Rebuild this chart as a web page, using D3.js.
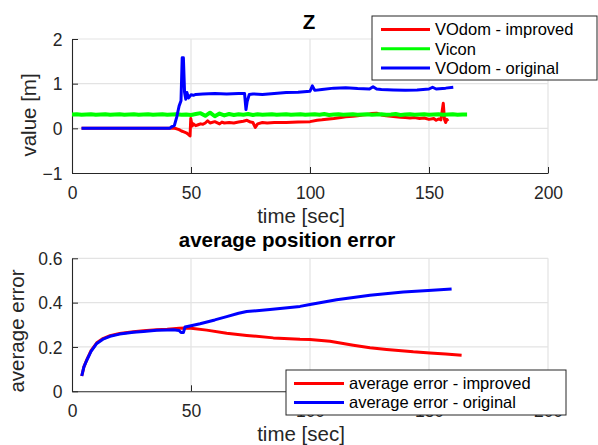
<!DOCTYPE html>
<html>
<head>
<meta charset="utf-8">
<script src="https://cdn.jsdelivr.net/npm/d3@7"></script>
<style>
  html, body { margin: 0; padding: 0; background: #fff; }
  svg { display: block; font-family: "Liberation Sans", Arial, Helvetica, sans-serif; }
</style>
</head>
<body>
<svg id="fig" width="598" height="445"></svg>
<script>
// ---- Z position over time (top panel) ----
const improvedT = [4, 43, 44, 45, 46, 47, 48, 49, 49.6, 49.9, 50.5, 51, 52, 53, 54, 55, 56, 57, 58, 60, 62, 63, 64, 66, 68, 70, 72, 73.5, 75, 76, 77, 78, 80, 82, 85, 90, 95, 100, 103, 105, 108, 110, 113, 115, 118, 120, 122, 124, 126, 128, 130, 132, 134, 136, 138, 140, 142, 144, 146, 148, 150, 152, 153, 154, 155, 156, 156.5, 157, 157.5, 158];
const improvedZ = [0, 0, -0.01, -0.03, -0.06, -0.08, -0.1, -0.14, -0.17, 0.22, 0.05, 0.1, 0.06, 0.08, 0.1, 0.09, 0.12, 0.17, 0.12, 0.15, 0.1, 0.14, 0.12, 0.13, 0.12, 0.14, 0.16, 0.18, 0.14, 0.13, 0.02, 0.1, 0.13, 0.12, 0.13, 0.13, 0.14, 0.15, 0.18, 0.19, 0.21, 0.22, 0.24, 0.26, 0.27, 0.28, 0.3, 0.31, 0.33, 0.34, 0.3, 0.28, 0.27, 0.26, 0.25, 0.24, 0.23, 0.24, 0.22, 0.23, 0.2, 0.22, 0.18, 0.21, 0.19, 0.56, 0.2, 0.13, 0.2, 0.16];

const viconT = [0, 2, 4, 6, 8, 10, 12, 14, 16, 18, 20, 22, 24, 26, 28, 30, 32, 34, 36, 38, 40, 42, 44, 46, 48, 50, 52, 54, 56, 58, 60, 62, 64, 66, 68, 70, 72, 74, 76, 78, 80, 82, 84, 86, 88, 90, 92, 94, 96, 98, 100, 102, 104, 106, 108, 110, 112, 114, 116, 118, 120, 122, 124, 126, 128, 130, 132, 134, 136, 138, 140, 142, 144, 146, 148, 150, 152, 154, 156, 158, 160, 162, 164, 166];
const viconZ = [0.31, 0.315, 0.305, 0.31, 0.315, 0.305, 0.31, 0.315, 0.305, 0.31,
                0.315, 0.305, 0.31, 0.315, 0.305, 0.31, 0.315, 0.305, 0.31, 0.315,
                0.305, 0.31, 0.315, 0.305, 0.31, 0.30, 0.32, 0.34, 0.28, 0.35,
                0.27, 0.33, 0.29, 0.32, 0.30, 0.315, 0.305, 0.32, 0.30, 0.315,
                0.305, 0.31, 0.315, 0.305, 0.31, 0.315, 0.305, 0.31, 0.315, 0.305,
                0.31, 0.315, 0.305, 0.32, 0.30, 0.31, 0.315, 0.305, 0.31, 0.315,
                0.305, 0.31, 0.315, 0.305, 0.31, 0.315, 0.305, 0.31, 0.32, 0.30,
                0.31, 0.315, 0.305, 0.31, 0.315, 0.305, 0.31, 0.315, 0.305, 0.31,
                0.315, 0.305, 0.31, 0.31];

const originalT = [4, 41, 42, 43, 44, 45, 45.8, 46.3, 46.8, 47.3, 47.8, 48.3, 49, 50, 51, 52, 55, 60, 65, 70, 72.5, 73.1, 73.6, 74.5, 76, 80, 85, 90, 95, 100, 101, 102, 105, 110, 115, 120, 125, 126.5, 128, 130, 135, 140, 145, 150, 151.5, 153, 157, 160.2];
const originalZ = [0, 0, 0.04, 0.06, 0.25, 0.5, 0.62, 1.58, 1.58, 0.8, 0.65, 0.8, 0.68, 0.75, 0.74, 0.76, 0.77, 0.78, 0.77, 0.78, 0.78, 0.42, 0.6, 0.76, 0.77, 0.76, 0.78, 0.8, 0.81, 0.83, 0.95, 0.85, 0.87, 0.9, 0.91, 0.89, 0.88, 0.93, 0.88, 0.87, 0.86, 0.85, 0.86, 0.88, 0.92, 0.88, 0.9, 0.92];

// ---- average position error (bottom panel) ----
const errImprovedT = [4.1, 5, 6.2, 8, 10.4, 13, 16, 20, 25.8, 30, 35.6, 40, 42.6, 45, 47.5, 50, 56.6, 65, 73.4, 84.6, 95.8, 100, 108.4, 118.2, 125.2, 132.2, 143.4, 150.4, 157, 163.7];
const errImprovedV = [0.069, 0.11, 0.142, 0.183, 0.219, 0.238, 0.251, 0.261, 0.269, 0.273, 0.278, 0.28, 0.282, 0.284, 0.286, 0.284, 0.276, 0.262, 0.252, 0.241, 0.235, 0.234, 0.226, 0.208, 0.196, 0.189, 0.178, 0.173, 0.168, 0.163];

const errOriginalT = [4.1, 5, 6.2, 8, 10.4, 13, 16, 20, 25.8, 30, 35.6, 40, 42.6, 45, 45.8, 46.8, 47.5, 50, 53.8, 60, 65, 70, 73.4, 76, 83.2, 95.8, 100, 111.2, 125.2, 139.2, 149.7, 159.5];
const errOriginalV = [0.069, 0.11, 0.14, 0.18, 0.216, 0.235, 0.248, 0.258, 0.266, 0.27, 0.275, 0.277, 0.278, 0.274, 0.265, 0.265, 0.29, 0.296, 0.305, 0.322, 0.337, 0.352, 0.36, 0.362, 0.369, 0.383, 0.392, 0.413, 0.433, 0.448, 0.455, 0.461];

// ---- axis ticks and labels ----
const timeTicks = [0, 50, 100, 150, 200];
const zTicks = [-1, 0, 1, 2];
const errTicks = [0, 0.2, 0.4, 0.6];
const zLegend = ["VOdom - improved", "Vicon", "VOdom - original"];
const errLegend = ["average error - improved", "average error - original"];

const RED = "#ff0000", GREEN = "#00ff00", BLUE = "#0000ff";
const AXIS = "#262626", GRID = "#e3e3e3";
const TICK_FS = 17.5, LABEL_FS = 20.5, TITLE_FS = 20.5, LEG_FS = 16.5;

const svg = d3.select("#fig");
svg.append("rect").attr("width", 598).attr("height", 445).attr("fill", "#fff");

function zip(ts, vs) { return ts.map((t, i) => [t, vs[i]]); }

function panel(opts) {
  const x = d3.scaleLinear().domain([0, 200]).range([72, 548]);
  const y = d3.scaleLinear().domain(opts.yDomain).range([opts.bottom, opts.top]);
  const g = svg.append("g");

  // grid
  g.append("g").selectAll("line").data(timeTicks.slice(1)).join("line")
    .attr("x1", d => x(d)).attr("x2", d => x(d))
    .attr("y1", opts.top).attr("y2", opts.bottom)
    .attr("stroke", GRID).attr("stroke-width", 1.2);
  g.append("g").selectAll("line").data(opts.yTicks.slice(1)).join("line")
    .attr("x1", 72).attr("x2", 548)
    .attr("y1", d => y(d)).attr("y2", d => y(d))
    .attr("stroke", GRID).attr("stroke-width", 1.2);

  // axes
  const xa = g.append("g").attr("transform", `translate(0,${opts.bottom})`)
    .call(d3.axisBottom(x).tickValues(timeTicks).tickSize(-6).tickSizeOuter(0).tickFormat(d3.format("d")));
  xa.selectAll(".tick text").attr("y", opts.xLabelDy).attr("dy", 0)
    .attr("font-size", TICK_FS).attr("fill", AXIS).attr("font-family", null);
  const ya = g.append("g").attr("transform", "translate(72,0)")
    .call(d3.axisLeft(y).tickValues(opts.yTicks).tickSize(-6).tickSizeOuter(0).tickFormat(opts.yFmt));
  ya.selectAll(".tick text").attr("x", -9.5).attr("dy", "0.35em")
    .attr("font-size", TICK_FS).attr("fill", AXIS).attr("font-family", null);
  [xa, ya].forEach(a => {
    a.attr("font-family", null);
    a.select(".domain").attr("stroke", AXIS).attr("stroke-width", 1.1);
    a.selectAll(".tick line").attr("stroke", AXIS).attr("stroke-width", 1);
  });

  // data
  const line = d3.line().x(d => x(d[0])).y(d => y(d[1]));
  const clip = "clip" + opts.id;
  svg.append("clipPath").attr("id", clip).append("rect")
    .attr("x", 72).attr("y", opts.top - 2).attr("width", 476).attr("height", opts.bottom - opts.top + 2);
  const dg = g.append("g").attr("clip-path", `url(#${clip})`);
  opts.series.forEach(s => {
    dg.append("path").datum(s.data).attr("d", line)
      .attr("fill", "none").attr("stroke", s.color).attr("stroke-width", s.width || 3)
      .attr("stroke-linejoin", "round");
  });

  // title and labels
  g.append("text").attr("x", opts.titleX).attr("y", opts.titleY).attr("text-anchor", "middle")
    .attr("font-size", TITLE_FS).attr("font-weight", "bold").attr("fill", "#000").text(opts.title);
  g.append("text").attr("x", 301).attr("y", opts.xTitleY).attr("text-anchor", "middle")
    .attr("font-size", LABEL_FS).attr("fill", AXIS).text("time [sec]");
  g.append("text").attr("transform", `translate(${opts.yTitleX},${opts.yTitleY}) rotate(-90)`)
    .attr("text-anchor", "middle").attr("font-size", LABEL_FS).attr("fill", AXIS).text(opts.yTitle);

  // legend (drawn above the axis, as in the figure)
  const L = opts.legend;
  const lg = g.append("g");
  lg.append("rect").attr("x", L.x).attr("y", L.y).attr("width", L.w).attr("height", L.h)
    .attr("fill", "#fff").attr("stroke", AXIS).attr("stroke-width", 1);
  L.items.forEach((name, i) => {
    const cy = L.y + L.firstRow + i * L.rowStep;
    lg.append("line").attr("x1", L.x + L.lineX0).attr("x2", L.x + L.lineX1)
      .attr("y1", cy).attr("y2", cy).attr("stroke", L.colors[i]).attr("stroke-width", 3);
    lg.append("text").attr("x", L.x + L.textX).attr("y", cy).attr("dy", "0.35em")
      .attr("font-size", LEG_FS).attr("fill", "#000").text(name);
  });
}

panel({
  id: "z", top: 39, bottom: 173, yDomain: [-1, 2], yTicks: zTicks, yFmt: d3.format("d"),
  xLabelDy: 25.5, title: "Z", titleX: 309, titleY: 29, xTitleY: 223,
  yTitle: "value [m]", yTitleX: 36, yTitleY: 115,
  series: [
    { data: zip(improvedT, improvedZ), color: RED },
    { data: zip(viconT, viconZ), color: GREEN, width: 4 },
    { data: zip(originalT, originalZ), color: BLUE }
  ],
  legend: { x: 372, y: 16, w: 225, h: 64, firstRow: 13.5, rowStep: 19.3, lineX0: 9, lineX1: 58, textX: 63,
            items: zLegend, colors: [RED, GREEN, BLUE] }
});

panel({
  id: "err", top: 258.3, bottom: 391.3, yDomain: [0, 0.6], yTicks: errTicks,
  yFmt: d => d === 0 ? "0" : d3.format(".1f")(d),
  xLabelDy: 26, title: "average position error", titleX: 287, titleY: 246.5, xTitleY: 441,
  yTitle: "average error", yTitleX: 24, yTitleY: 331,
  series: [
    { data: zip(errImprovedT, errImprovedV), color: RED },
    { data: zip(errOriginalT, errOriginalV), color: BLUE }
  ],
  legend: { x: 286, y: 370, w: 280, h: 45, firstRow: 13.5, rowStep: 19, lineX0: 8, lineX1: 58, textX: 63,
            items: errLegend, colors: [RED, BLUE] }
});
</script>
</body>
</html>
